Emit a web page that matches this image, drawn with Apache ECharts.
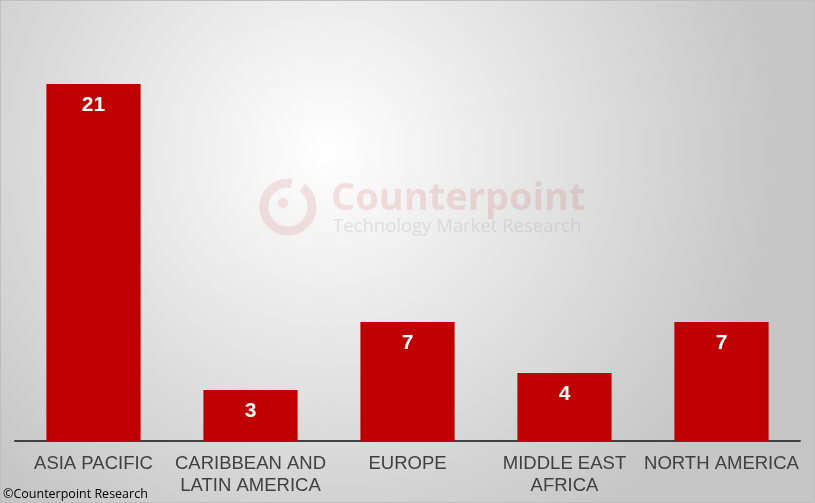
<!DOCTYPE html>
<html><head><meta charset="utf-8">
<script src="https://cdn.jsdelivr.net/npm/echarts@6/dist/echarts.min.js"></script>
<style>html,body{margin:0;padding:0;}#c{width:815px;height:503px;}</style>
</head><body><div id="c"></div>
<script>
const categories = ['ASIA PACIFIC', 'CARIBBEAN AND\nLATIN AMERICA', 'EUROPE', 'MIDDLE EAST\nAFRICA', 'NORTH AMERICA'];
const values = [21, 3, 7, 4, 7];

const chart = echarts.init(document.getElementById('c'));
chart.setOption({
  backgroundColor: {
    type: 'radial', x: 0.4, y: 0.3, r: 0.9,
    colorStops: [{offset: 0, color: '#ffffff'}, {offset: 1, color: '#c6c6c6'}]
  },
  animation: false,
  grid: {left: 15, right: 15, top: 16, bottom: 62, containLabel: false},
  xAxis: {
    type: 'category', data: categories,
    axisLine: {lineStyle: {color: '#404040', width: 2}},
    axisTick: {show: false},
    axisLabel: {color: '#404040', fontFamily: 'Liberation Sans, Arial', fontSize: 18.5, lineHeight: 22, margin: 12, interval: 0}
  },
  yAxis: {type: 'value', min: 0, max: 25, show: false, splitLine: {show: false}},
  graphic: [
    {type: 'arc', shape: {cx: 288, cy: 207, r: 24, startAngle: -Math.PI * 0.3, endAngle: Math.PI * 1.55}, style: {fill: 'none', stroke: 'rgba(200,40,40,0.12)', lineWidth: 9}, z: 0},
    {type: 'circle', shape: {cx: 283, cy: 203, r: 5}, style: {fill: 'rgba(200,40,40,0.12)'}, z: 0},
    {type: 'text', left: 331, top: 180, style: {text: 'Counterpoint', font: 'bold 38px "Open Sans", sans-serif', fill: 'rgba(200,40,40,0.13)'}, z: 0},
    {type: 'text', left: 333, top: 217, style: {text: 'Technology Market Research', font: '18.5px "Open Sans", sans-serif', fill: 'rgba(160,160,160,0.25)'}, z: 0},
    {type: 'text', left: 3, top: 488, style: {text: '©Counterpoint Research', font: '12.5px "Open Sans", sans-serif', fill: '#000'}, z: 10},
    {type: 'rect', shape: {x: 0.5, y: 0.5, width: 814, height: 502}, style: {fill: 'none', stroke: '#bfbfbf', lineWidth: 1}, z: 10}
  ],
  series: [{
    type: 'bar', data: values, barWidth: '60%',
    itemStyle: {color: '#C00000'},
    label: {show: true, position: 'insideTop', distance: 11, color: '#fff', fontWeight: 'bold', fontSize: 21, fontFamily: 'Liberation Sans, Arial'}
  }]
});
</script></body></html>
